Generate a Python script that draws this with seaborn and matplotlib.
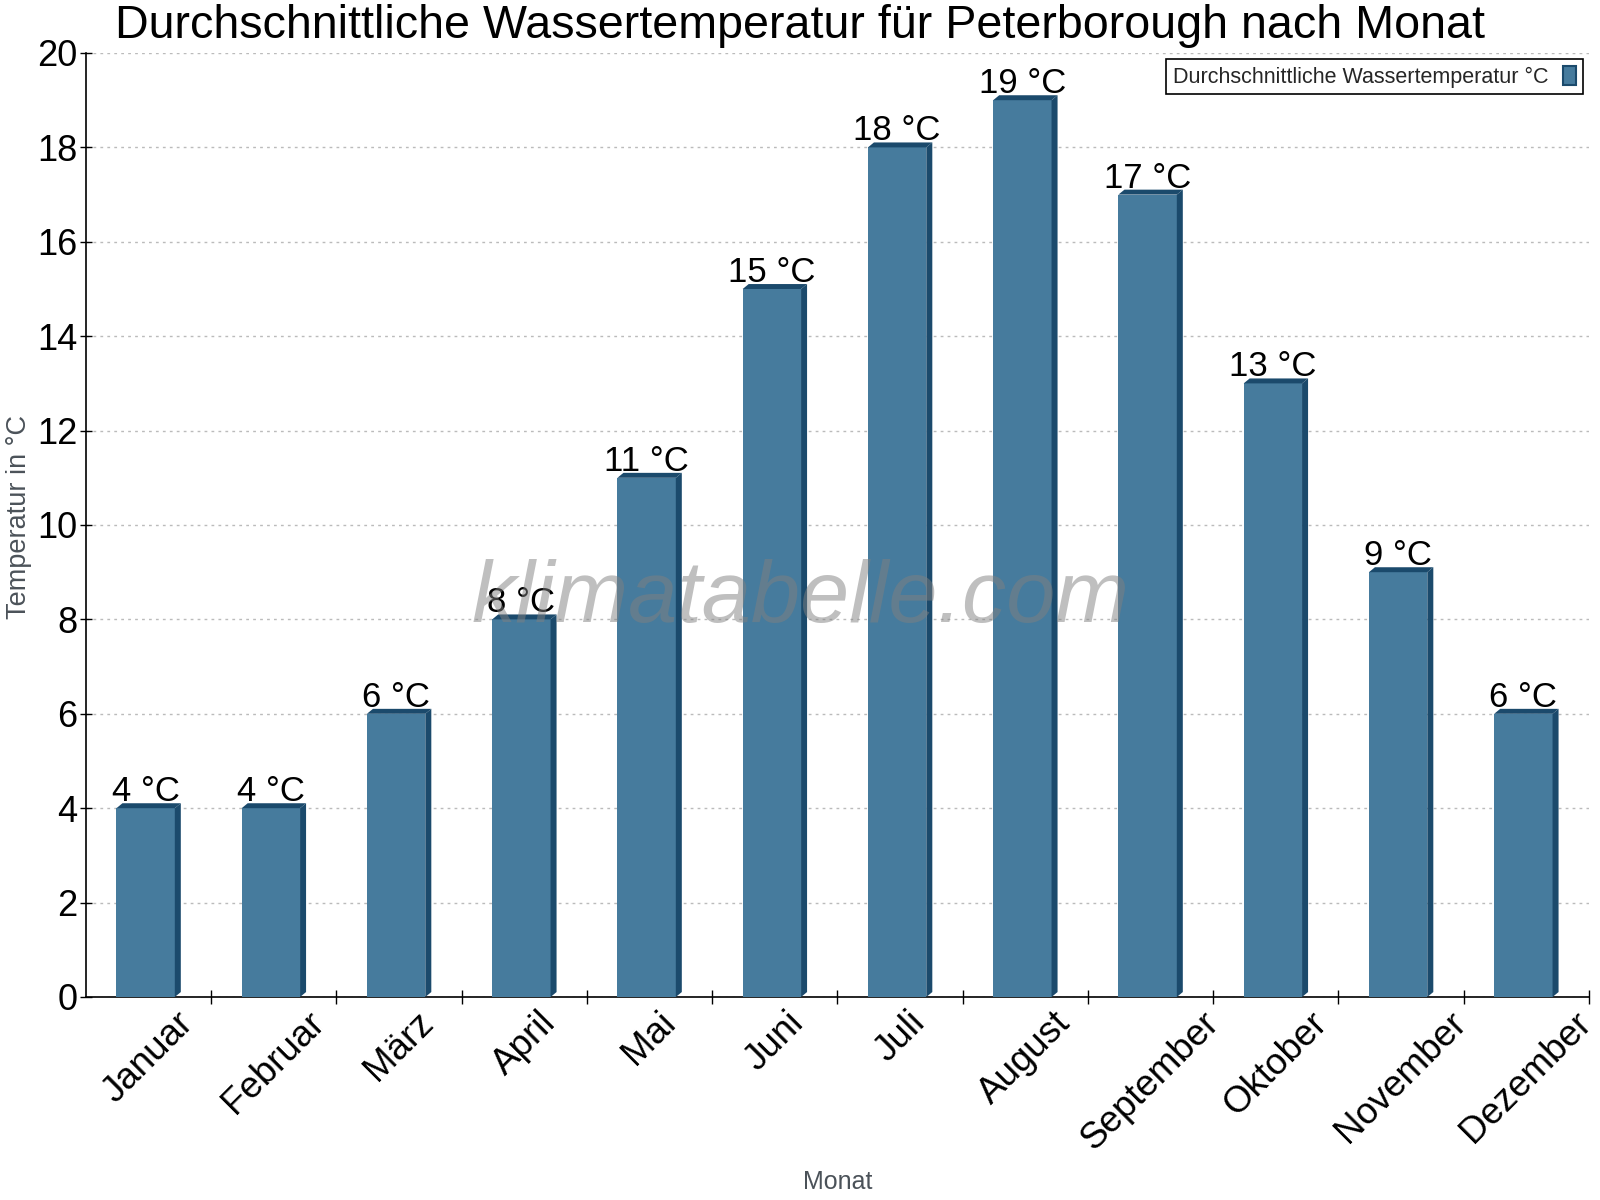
import matplotlib
matplotlib.use("Agg")
import matplotlib.pyplot as plt
import seaborn as sns
from matplotlib.patches import Polygon, Patch
from matplotlib.ticker import FixedLocator

# ── data ──────────────────────────────────────────────────────────────────────
months = ["Januar", "Februar", "März", "April", "Mai", "Juni", "Juli",
          "August", "September", "Oktober", "November", "Dezember"]
water_temp = [4, 4, 6, 8, 11, 15, 18, 19, 17, 13, 9, 6]
y_ticks = list(range(0, 21, 2))

title = "Durchschnittliche Wassertemperatur für Peterborough nach Monat"
legend_label = "Durchschnittliche Wassertemperatur °C"

# ── style ─────────────────────────────────────────────────────────────────────
face = "#467b9d"
dark = "#1b4a6c"
label_gray = "#4b5259"

sns.set_theme(style="white")
plt.rcParams["font.family"] = ["Liberation Sans", "DejaVu Sans"]

fig = plt.figure(figsize=(16, 12), dpi=100)
ax = fig.add_axes([86 / 1600, 1 - 997 / 1200, 1503 / 1600, 944 / 1200])

bar_w = 0.466
dx, dy = 0.048, 0.105   # fake 3d depth in data units
sns.barplot(x=months, y=water_temp, color=face, saturation=1,
            width=bar_w, ax=ax, zorder=3)

for i, p in enumerate(ax.patches):
    p.set_x(p.get_x() - dx / 2)
    p.set_linewidth(0)
    x0 = p.get_x()
    x1 = x0 + p.get_width()
    v = p.get_height()
    top = Polygon([(x0, v), (x0 + dx, v + dy), (x1 + dx, v + dy), (x1, v)],
                  closed=True, facecolor=dark, edgecolor="none", zorder=3)
    side = Polygon([(x1, v), (x1 + dx, v + dy), (x1 + dx, dy), (x1, 0)],
                   closed=True, facecolor=dark, edgecolor="none", zorder=3)
    ax.add_patch(top)
    ax.add_patch(side)
    ax.text((x0 + x1) / 2, v + 0.15, f"{water_temp[i]} °C", ha="center",
            va="baseline", fontsize=25, color="black", zorder=5)

# ── axes ──────────────────────────────────────────────────────────────────────
ax.set_xlim(-0.5, len(months) - 0.5)
ax.set_ylim(0, 20)
ax.set_yticks(y_ticks)
ax.tick_params(axis="y", labelsize=26, direction="inout", length=8,
               width=1, color="black", left=True, pad=2, labelcolor="black")
ax.tick_params(axis="x", which="major", labelsize=26.5, length=0, pad=6,
               labelcolor="black")
ax.xaxis.set_minor_locator(FixedLocator([k + 0.5 for k in range(len(months))]))
ax.tick_params(axis="x", which="minor", direction="inout", length=10,
               width=1, color="black", bottom=True)
plt.setp(ax.get_xticklabels(), rotation=45, ha="center")

ax.grid(axis="y", color="#bbbbbb", linestyle=(0, (2, 3)), linewidth=1, zorder=0)
ax.grid(axis="x", visible=False)
ax.set_axisbelow(True)

for s in ["top", "right"]:
    ax.spines[s].set_visible(False)
for s in ["left", "bottom"]:
    ax.spines[s].set_color("black")
    ax.spines[s].set_linewidth(1.2)

ax.set_xlabel("Monat", fontsize=18, color=label_gray, va="top")
ax.xaxis.set_label_coords(0.5, -0.183)
ax.set_ylabel("Temperatur in °C", fontsize=19.5, color=label_gray)
ax.yaxis.set_label_coords(-0.036, 0.508)

fig.text(0.5, 1 - 38 / 1200, title, ha="center", va="baseline",
         fontsize=33.6, color="black")

# watermark
ax.text(0.4757, 0.421, "klimatabelle.com", transform=ax.transAxes,
        ha="center", va="center", fontsize=63.6, style="italic",
        color="#808080", alpha=0.5, zorder=6)

handle = Patch(facecolor=face, edgecolor=dark, linewidth=1.5)
leg = ax.legend([handle], [legend_label], loc="upper right", fontsize=15.5,
                markerfirst=False, fancybox=False, framealpha=1,
                edgecolor="black", handlelength=0.6, handleheight=1.0,
                borderaxespad=0.3, borderpad=0.3, handletextpad=0.7)
leg.get_frame().set_linewidth(1.2)
leg.set_zorder(7)

fig.savefig("out.png", dpi=100)
